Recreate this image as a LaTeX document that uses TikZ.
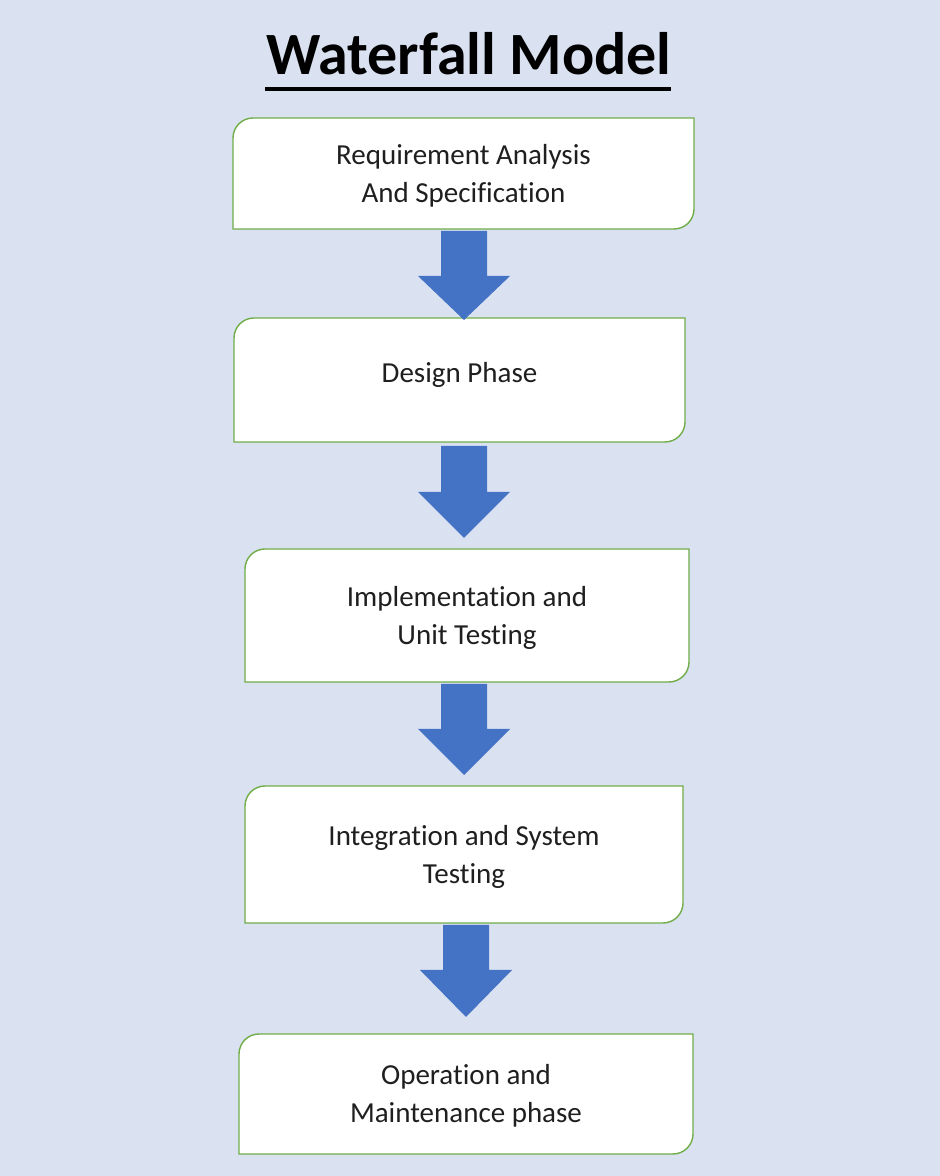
\documentclass[tikz,border=0pt]{standalone}
\usepackage{fontspec}
\setmainfont[Ligatures=NoCommon]{Carlito}
\definecolor{bg}{RGB}{218,226,242}
\definecolor{arrowblue}{RGB}{68,114,196}
\definecolor{boxgreen}{RGB}{112,173,71}
\newcommand{\phasebox}[7]{%
  % #1 name, #2 left, #3 right, #4 top, #5 bottom (pixel, y down), #6 text centre y, #7 text
  \draw[boxline] (#2,{1176-#4-20}) -- (#2,{1176-#5}) -- ({#3-20},{1176-#5})
    arc[start angle=270,end angle=360,radius=20] -- (#3,{1176-#4}) -- ({#2+20},{1176-#4})
    arc[start angle=90,end angle=180,radius=20] -- cycle;
  \node[phasetext] (#1) at ({(#2+#3)/2},{1176-#6-2}) {#7};
}
\newcommand{\blockarrow}[4]{%
  % #1 center x, #2 top y, #3 shaft bottom y, #4 tip y (pixel, y down)
  \fill[arrowblue] ({#1-23},{1176-#2}) -- ({#1+23},{1176-#2}) -- ({#1+23},{1176-#3})
    -- ({#1+46},{1176-#3}) -- (#1,{1176-#4}) -- ({#1-46},{1176-#3}) -- ({#1-23},{1176-#3}) -- cycle;
}
\begin{document}
\begin{tikzpicture}[x=1pt,y=1pt,
  boxline/.style={draw=boxgreen,line width=1.4pt,fill=white},
  phasetext/.style={align=center,font=\fontsize{29}{38}\selectfont,text=black!88}]
\fill[bg] (0,0) rectangle (940,1176);
\useasboundingbox (0,0) rectangle (940,1176);
\node[font=\fontsize{60}{62}\selectfont\bfseries, anchor=base] (title) at (469,{1176-75}) {Waterfall Model};
\draw[line width=3.5pt] (265,{1176-89}) -- (671,{1176-89});
\phasebox{p1}{233}{694}{118}{229}{173.5}{Requirement Analysis\\And Specification}
\phasebox{p2}{234}{685}{318}{442}{373}{Design Phase}
\phasebox{p3}{245}{689}{549}{682}{615.5}{Implementation and\\Unit Testing}
\phasebox{p4}{245}{683}{786}{923}{854.5}{Integration and System\\Testing}
\phasebox{p5}{239}{693}{1034}{1154}{1094}{Operation and\\Maintenance phase}
\blockarrow{464}{231}{276}{320}
\blockarrow{464}{446}{492}{538}
\blockarrow{464}{684}{729}{775}
\blockarrow{466}{925}{970}{1017}
\end{tikzpicture}
\end{document}
